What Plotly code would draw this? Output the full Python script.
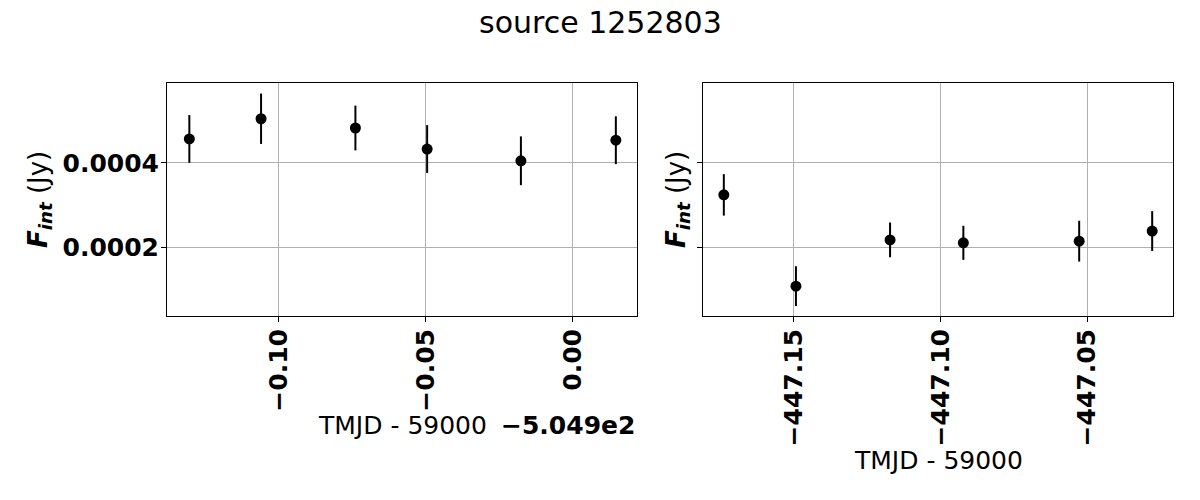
import plotly.graph_objects as go
from plotly.subplots import make_subplots

# light curve of one source, two observing epochs
mjd_ref = 59000
offset_left = -504.9

t_left = [-505.0305, -505.0061, -504.9740, -504.9496, -504.9177, -504.8854]
f_left = [0.000457, 0.000505, 0.000483, 0.000433, 0.000405, 0.000454]
e_left = [0.0000568, 0.0000599, 0.0000532, 0.0000568, 0.0000580, 0.0000568]

t_right = [-447.1739, -447.1493, -447.1172, -447.0922, -447.0527, -447.0278]
f_right = [0.000324, 0.000107, 0.000217, 0.000210, 0.000214, 0.000238]
e_right = [0.0000493, 0.0000473, 0.0000413, 0.0000405, 0.0000485, 0.0000473]

FONT = "DejaVu Sans"
W, H = 1200, 500
PAD = 8  # page body margin in the browser


def px(x):
    return (x - PAD) / W


def py(y):
    return 1 - (y - PAD) / H


fig = make_subplots(rows=1, cols=2, shared_yaxes=True)

x_left = [t - offset_left for t in t_left]
fig.add_trace(go.Scatter(x=x_left, y=f_left, mode="markers",
                         marker=dict(color="black", size=11),
                         error_y=dict(type="data", array=e_left, color="black",
                                      thickness=2, width=0)), row=1, col=1)
fig.add_trace(go.Scatter(x=t_right, y=f_right, mode="markers",
                         marker=dict(color="black", size=11),
                         error_y=dict(type="data", array=e_right, color="black",
                                      thickness=2, width=0)), row=1, col=2)

axis_style = dict(showline=True, mirror=True, linecolor="black", linewidth=1,
                  ticks="outside", ticklen=5, tickcolor="black",
                  showgrid=True, gridcolor="#b0b0b0", gridwidth=1, zeroline=False,
                  tickfont=dict(family=FONT, size=25, color="black", weight="bold"))

fig.update_xaxes(**axis_style)
fig.update_yaxes(**axis_style)

fig.update_xaxes(domain=[px(167), px(637)], range=[-0.1381, 0.0218],
                 dtick=0.05, tick0=0, tickformat=".2f", tickangle=-90,
                 ticklabelstandoff=-3, row=1, col=1)
fig.update_xaxes(domain=[px(703), px(1173)], range=[-447.181, -447.0207],
                 dtick=0.05, tick0=0, tickformat=".2f", tickangle=-90,
                 ticklabelstandoff=-3, row=1, col=2)
fig.update_yaxes(domain=[py(316), py(83)], range=[0.000036, 0.00059],
                 dtick=0.0002, tick0=0, tickformat=".4f", ticklabelstandoff=-3)
fig.update_yaxes(showticklabels=False, row=1, col=2)

ylab = "<b><i>F</i></b><sub><b><i>int</i></b></sub> (Jy)"
notes = [
    dict(text="source 1252803", x=px(600), y=py(22), font=dict(size=30)),
    dict(text="TMJD - %d" % mjd_ref, x=px(402), y=py(425)),
    dict(text="<b>\u22125.049e2</b>", x=px(637), y=py(425), xanchor="right"),
    dict(text="TMJD - %d" % mjd_ref, x=px(938), y=py(460)),
    dict(text=ylab, x=px(39), y=py(200), textangle=-90, font=dict(size=26)),
    dict(text=ylab, x=px(677), y=py(200), textangle=-90, font=dict(size=26)),
]
for n in notes:
    fig.add_annotation(xref="paper", yref="paper", showarrow=False,
                       xanchor=n.pop("xanchor", "center"), yanchor="middle",
                       font=n.pop("font", dict(size=25)), **n)

fig.update_layout(width=W, height=H, showlegend=False,
                  margin=dict(l=0, r=0, t=0, b=0),
                  plot_bgcolor="white", paper_bgcolor="white",
                  font=dict(family=FONT, color="black"))

fig.write_html("out.html")
